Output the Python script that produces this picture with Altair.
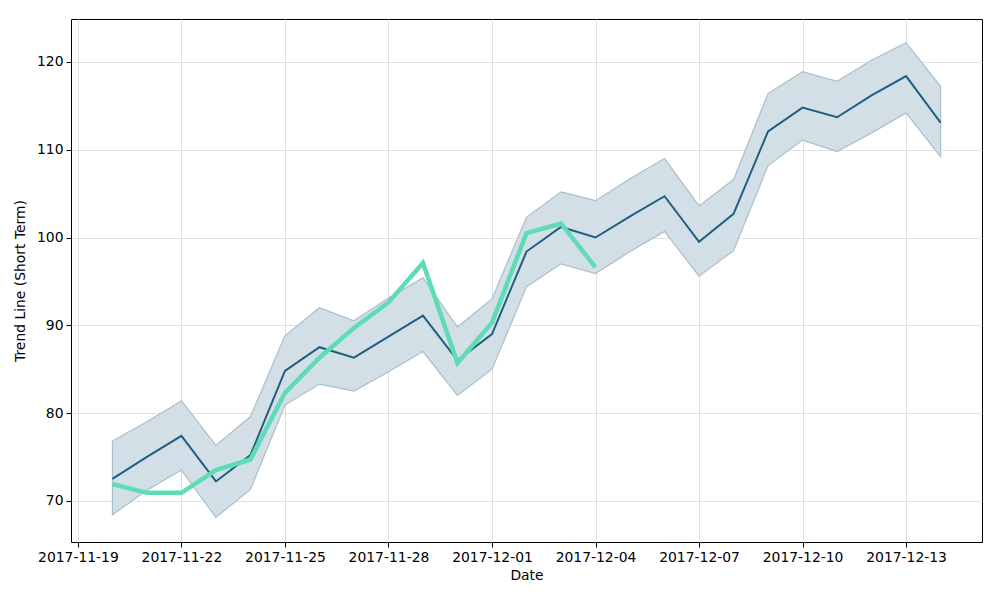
import altair as alt
import pandas as pd

dates = pd.date_range("2017-11-20", "2017-12-14", freq="D").strftime("%Y-%m-%dT00:00:00Z").tolist()

trend = [72.5, 75.0, 77.4, 72.2, 75.2, 84.8, 87.5, 86.3, 88.7, 91.1, 86.0, 89.0, 98.4,
         101.2, 100.0, 102.4, 104.7, 99.5, 102.7, 112.1, 114.8, 113.7, 116.2, 118.4, 113.1]
upper = [76.8, 79.0, 81.4, 76.3, 79.6, 88.8, 92.0, 90.5, 93.1, 95.4, 89.8, 93.0, 102.3,
         105.2, 104.2, 106.7, 109.0, 103.6, 106.6, 116.4, 118.9, 117.8, 120.2, 122.2, 117.2]
lower = [68.4, 71.2, 73.5, 68.1, 71.3, 80.9, 83.3, 82.5, 84.7, 87.0, 82.0, 85.0, 94.4,
         97.0, 95.9, 98.4, 100.7, 95.6, 98.5, 108.2, 111.1, 109.8, 111.9, 114.2, 109.2]
actual = [71.9, 70.9, 70.9, 73.5, 74.7, 82.3, 86.3, 89.7, 92.6, 97.1, 85.7, 90.3, 100.5,
          101.6, 96.6]

df = pd.DataFrame({"date": dates, "trend": trend, "upper": upper, "lower": lower})
df2 = pd.DataFrame({"date": dates[:len(actual)], "actual": actual})

tick_dates = ["2017-11-19", "2017-11-22", "2017-11-25", "2017-11-28", "2017-12-01",
              "2017-12-04", "2017-12-07", "2017-12-10", "2017-12-13"]
tick_vals = [alt.DateTime(year=int(d[:4]), month=int(d[5:7]), date=int(d[8:]), utc=True) for d in tick_dates]

xscale = alt.Scale(type="utc",
                   domain=[alt.DateTime(year=2017, month=11, date=18, hours=19, minutes=12, utc=True),
                           alt.DateTime(year=2017, month=12, date=15, hours=4, minutes=48, utc=True)])
yscale = alt.Scale(domain=[65.3, 124.9], nice=False, zero=False)

xaxis = alt.Axis(title="Date", values=tick_vals,
                 labelExpr="utcFormat(datum.value, '%Y-%m-%d')",
                 labelFlush=False, labelOverlap=False)
yaxis = alt.Axis(title="Trend Line (Short Term)", values=[70, 80, 90, 100, 110, 120])

base = alt.Chart(df)
band = base.mark_area(color="#d2dfe6", opacity=1, stroke="#a9bfcc", strokeWidth=1.2).encode(
    x=alt.X("date:T", scale=xscale, axis=xaxis),
    y=alt.Y("lower:Q", scale=yscale, axis=yaxis),
    y2="upper:Q",
)
line = base.mark_line(color="#1f5f7f", strokeWidth=2).encode(
    x=alt.X("date:T", scale=xscale),
    y=alt.Y("trend:Q", scale=yscale),
)
green = alt.Chart(df2).mark_line(color="#5fdcb5", strokeWidth=4.5).encode(
    x=alt.X("date:T", scale=xscale),
    y=alt.Y("actual:Q", scale=yscale),
)

chart = alt.layer(band, line, green).properties(
    width=911, height=523,
    autosize=alt.AutoSizeParams(type="none"),
    padding={"left": 63, "top": 11, "right": 10, "bottom": 50},
).configure_view(stroke="black", strokeWidth=1).configure_axis(
    grid=True, gridColor="#e0e0e0", gridWidth=1,
    domain=False, tickColor="black", tickSize=5,
    labelFont="DejaVu Sans", labelFontSize=13.9, labelColor="black",
    titleFont="DejaVu Sans", titleFontSize=13.9, titleFontWeight="normal", titleColor="black",
    labelPadding=3,
).configure_axisY(titlePadding=9).configure_axisX(titlePadding=5)

chart.save("out.html", embed_options={"renderer": "svg", "actions": False})
